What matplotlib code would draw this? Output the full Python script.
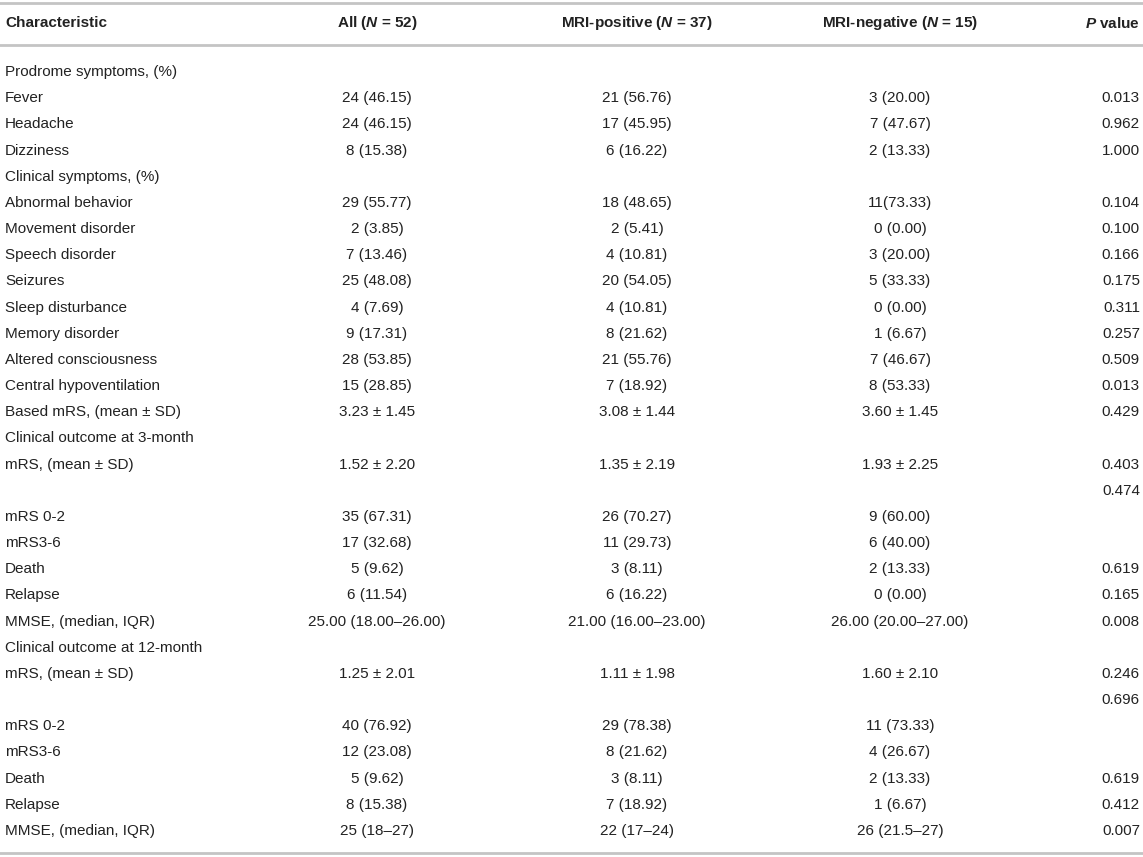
import matplotlib
matplotlib.use("Agg")
import matplotlib.pyplot as plt

plt.rcParams['font.family'] = ['Liberation Sans', 'DejaVu Sans']
plt.rcParams['mathtext.fontset'] = 'custom'
plt.rcParams['mathtext.it'] = 'Liberation Sans:italic:bold'
plt.rcParams['mathtext.rm'] = 'Liberation Sans:bold'

headers = ["Characteristic", r"All ($\mathit{N}$ = 52)", r"MRI-positive ($\mathit{N}$ = 37)",
           r"MRI-negative ($\mathit{N}$ = 15)", r"$\mathit{P}$ value"]

labels = ["Prodrome symptoms, (%)", "Fever", "Headache", "Dizziness",
          "Clinical symptoms, (%)", "Abnormal behavior", "Movement disorder",
          "Speech disorder", "Seizures", "Sleep disturbance", "Memory disorder",
          "Altered consciousness", "Central hypoventilation", "Based mRS, (mean ± SD)",
          "Clinical outcome at 3-month", "mRS, (mean ± SD)", "", "mRS 0-2", "mRS3-6",
          "Death", "Relapse", "MMSE, (median, IQR)",
          "Clinical outcome at 12-month", "mRS, (mean ± SD)", "", "mRS 0-2", "mRS3-6",
          "Death", "Relapse", "MMSE, (median, IQR)"]

all_vals = ["", "24 (46.15)", "24 (46.15)", "8 (15.38)",
            "", "29 (55.77)", "2 (3.85)", "7 (13.46)", "25 (48.08)", "4 (7.69)",
            "9 (17.31)", "28 (53.85)", "15 (28.85)", "3.23 ± 1.45",
            "", "1.52 ± 2.20", "", "35 (67.31)", "17 (32.68)", "5 (9.62)", "6 (11.54)",
            "25.00 (18.00–26.00)",
            "", "1.25 ± 2.01", "", "40 (76.92)", "12 (23.08)", "5 (9.62)", "8 (15.38)",
            "25 (18–27)"]

pos_vals = ["", "21 (56.76)", "17 (45.95)", "6 (16.22)",
            "", "18 (48.65)", "2 (5.41)", "4 (10.81)", "20 (54.05)", "4 (10.81)",
            "8 (21.62)", "21 (55.76)", "7 (18.92)", "3.08 ± 1.44",
            "", "1.35 ± 2.19", "", "26 (70.27)", "11 (29.73)", "3 (8.11)", "6 (16.22)",
            "21.00 (16.00–23.00)",
            "", "1.11 ± 1.98", "", "29 (78.38)", "8 (21.62)", "3 (8.11)", "7 (18.92)",
            "22 (17–24)"]

neg_vals = ["", "3 (20.00)", "7 (47.67)", "2 (13.33)",
            "", "11(73.33)", "0 (0.00)", "3 (20.00)", "5 (33.33)", "0 (0.00)",
            "1 (6.67)", "7 (46.67)", "8 (53.33)", "3.60 ± 1.45",
            "", "1.93 ± 2.25", "", "9 (60.00)", "6 (40.00)", "2 (13.33)", "0 (0.00)",
            "26.00 (20.00–27.00)",
            "", "1.60 ± 2.10", "", "11 (73.33)", "4 (26.67)", "2 (13.33)", "1 (6.67)",
            "26 (21.5–27)"]

p_vals = ["", "0.013", "0.962", "1.000",
          "", "0.104", "0.100", "0.166", "0.175", "0.311", "0.257", "0.509", "0.013", "0.429",
          "", "0.403", "0.474", "", "", "0.619", "0.165", "0.008",
          "", "0.246", "0.696", "", "", "0.619", "0.412", "0.007"]

fig = plt.figure(figsize=(11.43, 8.57), dpi=100)
ax = fig.add_axes([0, 0, 1, 1])
ax.set_xlim(0, 1143)
ax.set_ylim(857, 0)
ax.axis('off')

txt = '#222222'
rule = '#c4c4c4'
fs = 11

# header
ax.axhline(2.5, color=rule, lw=2)
ax.axhline(45, color=rule, lw=2)
ax.text(5, 23, headers[0], ha='left', va='center', fontsize=fs, fontweight='bold', color=txt)
ax.text(377, 23, headers[1], ha='center', va='center', fontsize=fs, fontweight='bold', color=txt)
ax.text(637, 23, headers[2], ha='center', va='center', fontsize=fs, fontweight='bold', color=txt)
ax.text(900, 23, headers[3], ha='center', va='center', fontsize=fs, fontweight='bold', color=txt)
ax.text(1140, 23, headers[4], ha='right', va='center', fontsize=fs, fontweight='bold', color=txt)

y0, dy = 72, 26.17
for i in range(len(labels)):
    y = y0 + i * dy
    ax.text(5, y, labels[i], ha='left', va='center', fontsize=fs, color=txt)
    ax.text(377, y, all_vals[i], ha='center', va='center', fontsize=fs, color=txt)
    ax.text(637, y, pos_vals[i], ha='center', va='center', fontsize=fs, color=txt)
    ax.text(900, y, neg_vals[i], ha='center', va='center', fontsize=fs, color=txt)
    ax.text(1140, y, p_vals[i], ha='right', va='center', fontsize=fs, color=txt)

# bottom rule
ax.axhline(853, color=rule, lw=2)

fig.savefig('out.png', dpi=100)
